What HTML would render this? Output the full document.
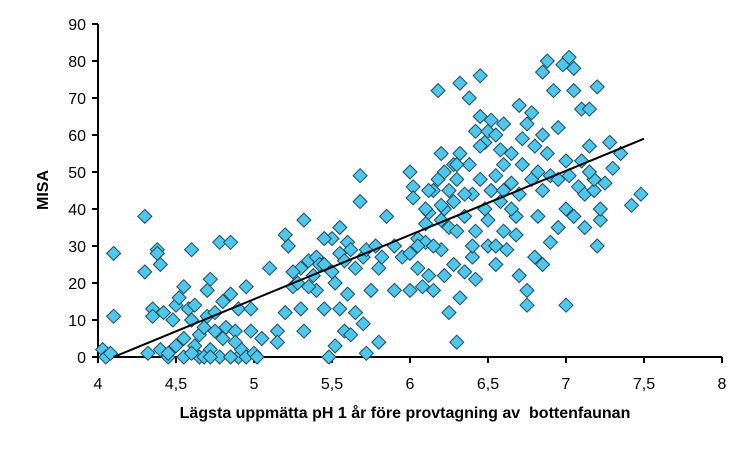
<!DOCTYPE html>
<html><head><meta charset="utf-8"><style>
body{margin:0;background:#fff;}
svg text{font-family:"Liberation Sans",Arial,sans-serif;}
</style></head><body>
<svg id="chart" width="750" height="450" viewBox="0 0 750 450" xmlns="http://www.w3.org/2000/svg">
<g id="axes"></g>
<g id="points"></g>
<g id="trend"></g>
<text x="48" y="190" font-size="16" font-weight="bold" text-anchor="middle" transform="rotate(-90 48 190)">MISA</text>
<text x="405" y="418" font-size="16" font-weight="bold" text-anchor="middle" xml:space="preserve">Lägsta uppmätta pH 1 år före provtagning av  bottenfaunan</text>
</svg>
<script>
const xTicks=[4,4.5,5,5.5,6,6.5,7,7.5,8];
const xTickLabels=["4","4,5","5","5,5","6","6,5","7","7,5","8"];
const yTicks=[0,10,20,30,40,50,60,70,80,90];
const ph=[4.03,4.05,4.08,4.1,4.1,4.3,4.3,4.35,4.38,4.38,4.4,4.35,4.32,4.4,4.45,4.42,4.48,4.5,4.52,4.55,4.55,4.58,4.6,4.6,4.62,4.62,4.65,4.65,4.68,4.7,4.7,4.72,4.72,4.75,4.75,4.78,4.78,4.8,4.8,4.82,4.85,4.85,4.88,4.9,4.9,4.92,4.95,4.95,4.98,5.0,5.02,4.55,4.6,4.68,4.72,4.85,4.5,4.45,4.88,4.98,
5.05,5.1,5.15,5.2,5.2,5.22,5.25,5.28,5.3,5.3,5.32,5.32,5.35,5.38,5.4,5.4,5.42,5.45,5.45,5.5,5.5,5.52,5.52,5.55,5.55,5.58,5.58,5.6,5.6,5.62,5.65,5.65,5.68,5.68,5.7,5.7,5.72,5.72,5.75,5.78,5.8,5.8,5.82,5.85,5.9,5.9,5.95,5.48,5.55,5.62,5.35,5.25,5.15,5.45,
6.0,6.02,6.0,6.02,6.05,6.05,6.08,6.1,6.1,6.12,6.12,6.15,6.15,6.18,6.18,6.2,6.2,6.2,6.22,6.22,6.22,6.25,6.25,6.25,6.28,6.28,6.28,6.3,6.3,6.3,6.32,6.32,6.32,6.35,6.35,6.38,6.38,6.4,6.4,6.42,6.42,6.42,6.45,6.45,6.45,6.48,6.48,6.5,6.5,6.52,6.52,6.55,6.55,6.55,6.58,6.58,6.6,6.6,6.62,6.65,6.65,6.68,6.68,6.7,6.7,6.7,6.72,6.72,6.75,6.75,6.75,6.78,6.78,6.8,6.8,6.82,6.82,6.85,6.85,6.85,6.88,6.88,6.9,6.9,6.92,6.95,6.95,6.98,7.0,7.0,7.02,7.02,7.05,7.05,7.08,7.1,7.1,7.12,7.12,7.15,7.15,7.18,7.18,7.2,7.2,7.22,7.22,7.25,7.28,7.3,7.35,7.42,7.48,6.12,6.05,6.2,6.35,6.45,6.55,6.6,6.65,6.3,6.15,6.0,6.1,6.5,6.4,6.6,7.0,7.05,6.95,7.15,6.85];
const misa=[2,0,1,28,11,38,23,13,29,28,25,11,1,2,0,12,10,14,16,19,5,13,29,10,3,14,6,0,8,18,11,21,2,12,7,0,31,15,5,8,31,17,7,0,13,2,19,0,7,1,0,0,1,0,0,0,3,1,4,13,
5,24,7,33,12,30,19,20,24,13,37,7,26,22,27,18,25,25,13,32,23,3,20,35,28,26,7,17,31,29,24,12,42,49,27,9,1,29,18,30,24,4,27,38,30,18,27,0,13,6,19,23,4,32,
50,46,28,43,32,24,19,31,36,39,22,45,18,48,72,55,37,29,50,40,22,45,35,12,52,42,25,4,34,48,74,55,16,38,23,52,70,44,27,61,34,21,65,48,76,58,40,30,61,45,64,60,30,25,42,56,52,34,29,47,55,38,33,68,44,22,52,59,63,18,14,48,66,57,27,38,50,45,25,77,55,80,31,49,72,48,62,79,14,53,49,81,38,72,46,67,53,35,44,67,57,45,48,30,73,37,40,47,58,51,55,41,44,45,30,41,44,57,49,63,40,52,30,18,40,37,30,45,40,78,35,50,60];
const trendX=[4.1,7.5];
const trendY=[0,59];
const NS="http://www.w3.org/2000/svg";
const sx=v=>98+(v-4)*156;
const sy=v=>357-v*3.7;
const axes=document.getElementById('axes');
function mk(tag,attrs,parent){const e=document.createElementNS(NS,tag);for(const k in attrs)e.setAttribute(k,attrs[k]);parent.appendChild(e);return e;}
const ya=mk('line',{x1:98,y1:sy(90),x2:98,y2:357,stroke:'#000','stroke-width':2},axes);


const xa=mk('line',{x1:97,y1:357,x2:sx(8),y2:357,stroke:'#000','stroke-width':2},axes);


yTicks.forEach(t=>{
  const l=mk('line',{x1:92,y1:sy(t),x2:98,y2:sy(t),stroke:'#000','stroke-width':2},axes);
  
  
  const tx=mk('text',{x:86,y:sy(t)+6,'font-size':16,'text-anchor':'end'},axes);
  tx.textContent=t;
  
  
});
xTicks.forEach((t,i)=>{
  const l=mk('line',{x1:sx(t),y1:357,x2:sx(t),y2:363,stroke:'#000','stroke-width':2},axes);
  
  
  const tx=mk('text',{x:sx(t),y:389,'font-size':16,'text-anchor':'middle'},axes);
  tx.textContent=xTickLabels[i];
  
  
});
const pts=document.getElementById('points');
ph.forEach((p,i)=>{
  const x=sx(p),y=sy(misa[i]),r=7;
  const d=mk('polygon',{points:`${x},${y-r} ${x+r},${y} ${x},${y+r} ${x-r},${y}`,fill:'#4fc6ea',stroke:'#1d4a5c','stroke-width':1},pts);
  
  
});
const tl=mk('line',{x1:sx(trendX[0]),y1:sy(trendY[0]),x2:sx(trendX[1]),y2:sy(trendY[1]),stroke:'#000','stroke-width':2},document.getElementById('trend'));


</script>
</body></html>
